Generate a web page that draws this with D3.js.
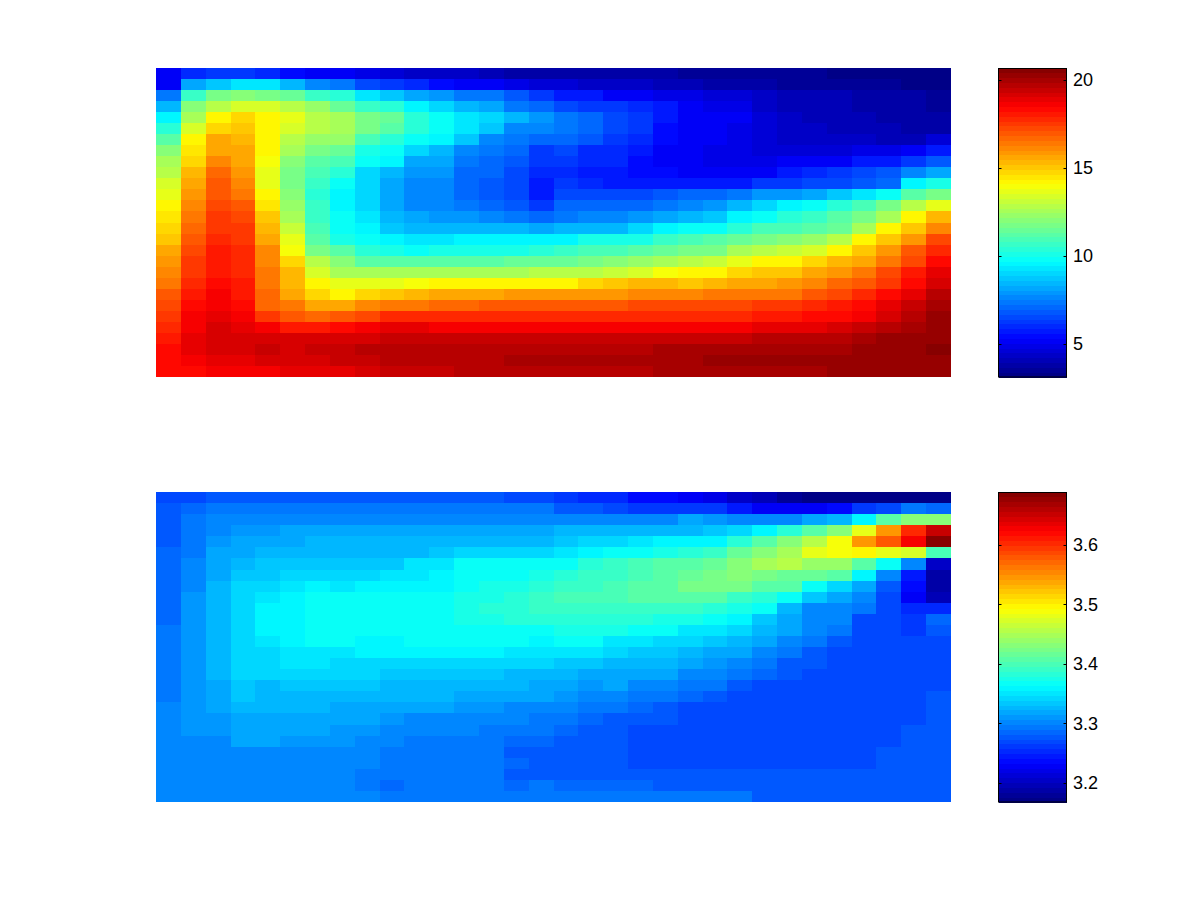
<!DOCTYPE html>
<html><head><meta charset="utf-8">
<script src="https://d3js.org/d3.v7.min.js"></script>
<style>html,body{margin:0;padding:0;background:#fff}svg{display:block}text{font-family:"Liberation Sans",Arial,sans-serif;font-size:18px;fill:#000}</style>
</head><body><svg id="c" width="1200" height="901"></svg>
<script>
// Each inner array is one column of the picture, top row first.
const topColumns = [
[5.1,5.2,7.5,8.4,9.7,10.5,11.3,12,12.6,12.9,13.4,13.8,14.1,14.5,14.8,15.1,15.6,15.9,16.2,16.4,16.9,17.3,17.6,17.9,18.2,18.3,18.4,18.3],
[5.9,8.1,10.7,12,12.6,13.3,14.2,14.6,14.9,15.3,15.5,15.9,16.1,16.4,16.6,16.9,17.2,17.5,17.6,17.8,18,18.3,18.5,18.6,18.9,19,18.7,18.4],
[6.2,8.8,11.7,12.9,14.1,14.9,15.5,15.7,16.1,16.6,16.9,17.1,17.3,17.5,17.6,17.8,18,18.1,18.2,18.3,18.5,18.6,18.9,19.2,19.2,19.3,18.9,18.5],
[6.2,9.2,12,13.5,14.7,15.1,15.2,15.5,15.6,15.8,16.1,16.5,16.9,17.2,17.4,17.6,17.8,17.9,17.9,18,18.1,18.3,18.6,18.9,19.3,19.3,19,18.5],
[6.1,9.2,11.9,13.5,14.1,14.1,14.1,14.1,13.9,13.8,13.8,14.1,14.4,15,15.3,15.5,16.1,16.2,16.3,16.4,16.6,16.8,17.4,18.6,19.3,19.4,19.3,18.7],
[5.5,8.4,11.4,12.9,13.6,13.4,12.8,12.6,12.1,11.9,11.9,12.1,12.3,12.6,13.1,13.6,14,14.8,15.2,15.4,15.7,16.3,17,18.1,19.2,19.3,19.3,18.9],
[5.2,7.7,10.8,12.4,12.9,12.8,12.3,11.7,11.3,10.9,10.6,10.5,10.6,10.8,11,11.3,11.9,13,13.5,14.1,14.9,15.6,16.8,18,19.3,19.5,19.3,19],
[5.2,7.4,10.3,11.5,12.5,12.5,12.2,11.4,10.9,10.3,9.8,9.7,9.7,9.8,9.9,10,11.1,12,12.6,13.8,14.2,15.6,17,18.3,19.3,19.5,19.4,19],
[4.9,6.6,9.3,10.7,11.7,11.7,11,10.2,9.8,9.1,9,8.9,8.9,9.2,9.6,9.9,10.3,11.3,12.5,13.6,14.9,16.2,17.3,18.6,19.3,19.6,19.5,19.3],
[4.7,6.2,8.8,10.5,11.4,11.2,10.5,9.9,9.5,8.5,8.2,8.1,8.1,8.4,8.8,9.6,10.2,11.2,12.6,13.8,15.1,16.5,17.7,18.8,19.5,19.6,19.6,19.4],
[4.5,6,8.2,9.7,10.5,10.4,9.9,9.1,8.3,7.9,7.6,7.6,7.6,8.1,8.6,9.4,9.9,11.2,12.6,14,15.4,16.5,17.8,18.8,19.5,19.6,19.6,19.5],
[4.4,5.5,7.9,9.1,9.9,9.9,9.5,8.6,8.2,7.9,7.6,7.6,7.6,7.9,8.5,9.4,10,11.3,12.6,14.1,15.7,16.6,17.8,18.7,19.5,19.7,19.6,19.5],
[4.3,5.1,7.4,8.4,9.4,9.2,8.8,7.7,7.4,7.2,7,7.1,7.5,7.9,8.6,9.5,10.1,11.3,12.6,14.1,15.7,16.8,17.8,18.7,19.5,19.7,19.7,19.6],
[4,5.1,7.3,8.1,9,8.7,7.7,7.5,7,7,6.8,6.8,7.2,7.7,8.5,9.6,10.1,11.3,12.7,14.1,15.7,16.9,17.8,18.7,19.5,19.7,19.8,19.6],
[3.9,4.8,6.8,7.5,8.4,7.7,7.5,7,6.9,6.5,6.5,6.5,6.8,7.5,8.4,9.7,10.2,11.4,12.7,14.1,15.8,17,17.8,18.7,19.5,19.7,19.9,19.7],
[3.9,4.7,6.3,7.2,7.9,7.6,7,6.2,6.2,6,5.8,5.8,6.3,7.2,8.3,9.7,10.4,11.5,12.8,14.1,15.8,17,17.8,18.7,19.5,19.8,19.9,19.7],
[3.8,4.6,5.8,6.5,7.3,7.3,7,6.5,6.2,6.1,6.2,6.5,7,7.5,8.4,9.7,10.7,11.5,12.8,14.3,15.9,17,17.9,18.7,19.4,19.8,19.9,19.6],
[3.8,4.5,5.6,6.2,7,7,6.8,6,6,5.7,6.1,6.5,7,7.6,8.5,10,10.9,11.8,13,14.9,15.9,17,17.9,18.7,19.4,19.8,20,19.7],
[3.8,4.4,5.3,6.2,6.5,6.6,6.3,5.9,5.9,5.7,5.8,6.6,7,7.6,8.5,10,11,12,13.1,15,16,17,17.9,18.7,19.4,19.8,20,19.7],
[3.7,4.3,5.2,6,6.2,6.2,6,5.6,5.4,5.5,5.8,6.6,7.2,7.9,8.9,10.1,11.3,12.3,13.5,15.2,16.1,17.2,17.9,18.7,19.4,19.8,20,19.8],
[3.7,4.1,4.9,5.6,5.7,5.4,5.4,5.3,5.3,5.4,5.8,6.8,7.4,8.3,9.7,10.7,11.5,12.6,14,15.2,16.1,17.2,17.9,18.7,19.5,19.9,20,19.9],
[3.5,4,4.8,5.1,5.3,5.3,5.2,5.1,5.1,5.2,5.7,7,7.7,8.6,9.8,10.9,11.7,12.9,14.1,15.1,16.2,17.2,17.9,18.7,19.5,19.9,20.1,19.9],
[3.5,3.9,4.7,5,5.2,5.1,5.1,5,5,5.2,5.7,7.2,7.9,8.8,9.8,11.1,11.9,13.2,14.1,15.3,16.3,17.2,17.9,18.7,19.5,19.9,20.2,19.9],
[3.5,3.8,4.6,4.9,5.1,4.9,4.9,4.8,4.9,5.2,5.7,7.5,8.6,9.5,10.4,11.6,12.7,13.6,14.7,15.5,16.3,17.2,17.9,18.7,19.5,19.9,20.2,19.9],
[3.5,3.7,4.4,4.4,4.7,4.6,4.6,4.6,5,5.2,6.2,7.9,9,9.9,10.9,11.8,13,14.1,15,15.5,16.4,17.5,18.1,19,19.6,20.1,20.2,20],
[3.5,3.6,4.2,4.2,4.4,4.4,4.5,4.7,5.1,5.6,6.2,7.9,9.5,10.4,11,12,13.1,14.1,15.1,15.8,16.5,17.5,18.1,19,19.6,20.1,20.2,20.1],
[3.5,3.6,4.1,4.1,4.2,4.3,4.4,4.6,5.2,5.9,6.5,8.3,9.9,10.8,11.2,12.3,13.4,14.8,15.5,16.2,16.9,17.8,18.4,19,19.7,20.1,20.2,20.1],
[3.4,3.5,4,4,4.1,4.2,4.3,4.7,5.3,6.2,6.6,8.7,10.4,11.2,11.5,12.9,14.1,15.2,15.9,16.6,17.3,18,18.4,19.3,19.8,20.1,20.4,20.2],
[3.4,3.5,3.9,3.9,4,4.1,4.3,4.8,5.6,6.6,6.9,9.2,11,11.9,12.7,14.1,15.1,15.5,16.5,16.9,17.8,18.4,18.7,19.5,20,20.2,20.4,20.3],
[3.4,3.5,3.8,3.8,3.9,4,4.2,4.9,5.8,6.8,7,9.8,11.9,12.7,14.1,15.1,16,16.3,17.2,17.5,18.4,18.8,19.3,19.7,20.2,20.3,20.3,20.3],
[3.4,3.4,3.7,3.7,3.8,3.9,4.2,5.2,6.3,7.6,9.6,11.3,13,14.1,15,16,16.9,17.3,18.1,18.4,19,19.5,19.7,20,20.2,20.4,20.3,20.3],
[3.3,3.4,3.6,3.6,3.7,3.9,4.6,5.8,6.7,8.3,10,11.9,13.7,15.2,16.1,17.2,17.8,18.4,18.9,19.2,19.8,20.1,20.2,20.2,20.3,20.6,20.3,20.3]
];
const bottomColumns = [
[3.27,3.276,3.276,3.276,3.276,3.286,3.286,3.286,3.286,3.286,3.286,3.286,3.291,3.291,3.291,3.291,3.291,3.291,3.291,3.301,3.301,3.301,3.301,3.304,3.304,3.304,3.304,3.304],
[3.27,3.286,3.291,3.296,3.296,3.291,3.301,3.301,3.301,3.31,3.31,3.31,3.31,3.31,3.31,3.31,3.31,3.308,3.308,3.308,3.308,3.308,3.304,3.304,3.304,3.304,3.304,3.304],
[3.275,3.291,3.301,3.306,3.31,3.32,3.32,3.32,3.325,3.328,3.328,3.328,3.328,3.328,3.328,3.328,3.328,3.32,3.32,3.32,3.31,3.31,3.306,3.301,3.301,3.301,3.301,3.301],
[3.275,3.291,3.301,3.31,3.315,3.32,3.328,3.333,3.34,3.345,3.345,3.345,3.345,3.345,3.345,3.345,3.345,3.335,3.335,3.328,3.32,3.315,3.315,3.306,3.301,3.301,3.301,3.301],
[3.275,3.296,3.301,3.31,3.32,3.328,3.333,3.335,3.345,3.35,3.363,3.363,3.363,3.355,3.345,3.345,3.34,3.33,3.328,3.325,3.32,3.315,3.315,3.306,3.301,3.301,3.301,3.301],
[3.275,3.296,3.301,3.315,3.32,3.33,3.335,3.345,3.35,3.363,3.363,3.363,3.363,3.363,3.355,3.35,3.345,3.335,3.328,3.325,3.32,3.315,3.31,3.306,3.301,3.301,3.301,3.301],
[3.275,3.296,3.301,3.315,3.325,3.33,3.335,3.345,3.36,3.365,3.365,3.365,3.365,3.365,3.355,3.35,3.345,3.335,3.33,3.325,3.32,3.315,3.31,3.306,3.301,3.301,3.301,3.301],
[3.275,3.296,3.301,3.315,3.325,3.33,3.335,3.345,3.35,3.365,3.365,3.365,3.365,3.365,3.355,3.345,3.34,3.335,3.328,3.315,3.315,3.31,3.31,3.301,3.301,3.301,3.301,3.301],
[3.275,3.296,3.306,3.315,3.325,3.33,3.335,3.345,3.36,3.365,3.365,3.365,3.365,3.362,3.36,3.345,3.34,3.335,3.328,3.32,3.315,3.31,3.301,3.301,3.301,3.291,3.291,3.301],
[3.275,3.296,3.306,3.315,3.328,3.33,3.335,3.35,3.36,3.365,3.365,3.365,3.365,3.362,3.36,3.345,3.335,3.33,3.325,3.315,3.31,3.306,3.301,3.296,3.291,3.291,3.286,3.296],
[3.28,3.296,3.306,3.315,3.328,3.33,3.35,3.355,3.36,3.367,3.367,3.368,3.367,3.365,3.36,3.345,3.335,3.328,3.325,3.315,3.306,3.301,3.296,3.291,3.291,3.291,3.291,3.291],
[3.275,3.296,3.306,3.315,3.328,3.335,3.35,3.36,3.362,3.368,3.37,3.37,3.368,3.365,3.36,3.345,3.335,3.328,3.325,3.315,3.306,3.301,3.296,3.291,3.291,3.291,3.291,3.291],
[3.275,3.296,3.306,3.315,3.328,3.34,3.365,3.365,3.37,3.372,3.378,3.373,3.37,3.365,3.36,3.345,3.335,3.328,3.32,3.31,3.306,3.301,3.291,3.291,3.291,3.291,3.291,3.291],
[3.275,3.296,3.306,3.32,3.328,3.34,3.365,3.368,3.372,3.378,3.38,3.376,3.37,3.365,3.36,3.345,3.335,3.328,3.32,3.31,3.306,3.296,3.291,3.291,3.291,3.291,3.291,3.291],
[3.27,3.291,3.301,3.32,3.328,3.345,3.37,3.37,3.372,3.38,3.385,3.38,3.37,3.365,3.355,3.345,3.33,3.325,3.315,3.306,3.301,3.291,3.286,3.281,3.286,3.276,3.286,3.291],
[3.27,3.291,3.301,3.32,3.33,3.345,3.37,3.375,3.38,3.39,3.392,3.385,3.37,3.362,3.355,3.345,3.33,3.32,3.315,3.306,3.296,3.291,3.286,3.281,3.281,3.281,3.291,3.291],
[3.265,3.281,3.306,3.325,3.335,3.35,3.37,3.385,3.39,3.4,3.395,3.385,3.375,3.365,3.35,3.335,3.328,3.32,3.31,3.301,3.291,3.286,3.276,3.276,3.276,3.276,3.286,3.291],
[3.255,3.281,3.306,3.325,3.34,3.362,3.38,3.39,3.395,3.4,3.395,3.385,3.375,3.365,3.35,3.335,3.32,3.31,3.301,3.296,3.286,3.276,3.276,3.276,3.276,3.276,3.286,3.291],
[3.25,3.272,3.306,3.325,3.345,3.365,3.39,3.395,3.4,3.4,3.395,3.385,3.375,3.35,3.345,3.33,3.32,3.315,3.301,3.291,3.281,3.276,3.276,3.276,3.276,3.276,3.286,3.291],
[3.24,3.265,3.306,3.328,3.35,3.37,3.4,3.4,3.405,3.405,3.39,3.38,3.365,3.35,3.335,3.328,3.315,3.301,3.296,3.286,3.276,3.272,3.27,3.272,3.272,3.281,3.286,3.291],
[3.235,3.26,3.306,3.328,3.36,3.375,3.405,3.41,3.41,3.405,3.39,3.375,3.365,3.345,3.335,3.325,3.315,3.301,3.291,3.276,3.276,3.272,3.27,3.27,3.272,3.276,3.281,3.291],
[3.225,3.26,3.315,3.33,3.36,3.385,3.41,3.42,3.425,3.41,3.39,3.375,3.355,3.34,3.325,3.315,3.306,3.296,3.286,3.272,3.27,3.27,3.27,3.27,3.27,3.276,3.281,3.291],
[3.22,3.26,3.31,3.335,3.36,3.395,3.42,3.425,3.425,3.405,3.385,3.365,3.35,3.335,3.315,3.31,3.301,3.291,3.276,3.27,3.27,3.27,3.27,3.27,3.27,3.276,3.281,3.291],
[3.205,3.245,3.306,3.345,3.38,3.415,3.43,3.43,3.425,3.395,3.375,3.36,3.345,3.33,3.315,3.306,3.291,3.281,3.272,3.27,3.27,3.27,3.27,3.27,3.27,3.276,3.281,3.291],
[3.195,3.225,3.301,3.36,3.405,3.435,3.445,3.425,3.41,3.385,3.365,3.335,3.328,3.315,3.306,3.296,3.286,3.272,3.27,3.27,3.27,3.27,3.27,3.27,3.27,3.276,3.281,3.281],
[3.18,3.23,3.301,3.385,3.43,3.45,3.455,3.42,3.405,3.365,3.325,3.315,3.315,3.301,3.296,3.281,3.276,3.27,3.27,3.27,3.27,3.27,3.27,3.27,3.27,3.276,3.281,3.281],
[3.175,3.225,3.315,3.41,3.455,3.48,3.44,3.42,3.37,3.335,3.306,3.306,3.301,3.291,3.281,3.276,3.272,3.27,3.27,3.27,3.27,3.27,3.27,3.27,3.27,3.276,3.281,3.281],
[3.175,3.24,3.33,3.43,3.49,3.49,3.44,3.41,3.345,3.315,3.301,3.301,3.291,3.276,3.272,3.27,3.27,3.27,3.27,3.27,3.27,3.27,3.27,3.27,3.27,3.276,3.281,3.281],
[3.172,3.265,3.36,3.48,3.55,3.495,3.41,3.36,3.32,3.301,3.291,3.27,3.27,3.27,3.27,3.27,3.27,3.27,3.27,3.27,3.27,3.27,3.27,3.27,3.27,3.281,3.281,3.281],
[3.172,3.27,3.41,3.55,3.58,3.485,3.37,3.306,3.281,3.272,3.27,3.27,3.27,3.27,3.27,3.27,3.27,3.27,3.27,3.27,3.27,3.27,3.27,3.276,3.276,3.281,3.281,3.281],
[3.172,3.291,3.43,3.6,3.624,3.47,3.306,3.245,3.235,3.23,3.255,3.262,3.262,3.27,3.27,3.27,3.27,3.27,3.27,3.27,3.27,3.276,3.276,3.276,3.281,3.281,3.281,3.281],
[3.172,3.286,3.43,3.65,3.689,3.4,3.205,3.19,3.19,3.195,3.255,3.286,3.276,3.272,3.272,3.272,3.272,3.272,3.276,3.276,3.276,3.276,3.276,3.281,3.281,3.281,3.281,3.281]
];
const topDomain = [3.13, 20.68];
const bottomDomain = [3.168, 3.689];
const topTicks = [5, 10, 15, 20];
const bottomTicks = [3.2, 3.3, 3.4, 3.5, 3.6];

const jetLevels = 64;
const jet = t => {
  const c = x => Math.round(255 * Math.max(0, Math.min(1, x)));
  return `rgb(${c(1.5 - Math.abs(4 * t - 3))},${c(1.5 - Math.abs(4 * t - 2))},${c(1.5 - Math.abs(4 * t - 1))})`;
};
const jetColor = d3.scaleQuantize().domain([0, 1])
  .range(d3.range(jetLevels).map(i => jet((i + 0.5) / jetLevels)));

const svg = d3.select('#c');
function panel(columns, domain, ticks, fmt, y0, y1) {
  const x = d3.scaleBand().domain(d3.range(columns.length)).range([156, 951]);
  const y = d3.scaleBand().domain(d3.range(columns[0].length)).range([y0, y1]);
  const norm = d3.scaleLinear().domain(domain).range([0, 1]).clamp(true);
  const g = svg.append('g');
  const cells = columns.flatMap((col, i) => col.map((v, j) => ({i, j, v})));
  g.selectAll('rect').data(cells).join('rect')
    .attr('x', d => x(d.i)).attr('y', d => y(d.j))
    .attr('width', x.bandwidth() + 0.4).attr('height', y.bandwidth() + 0.4)
    .attr('fill', d => jetColor(norm(d.v)))
    .attr('shape-rendering', 'crispEdges');

  // colour bar
  const cbX0 = 998.5, cbX1 = 1066.5;
  const cy = d3.scaleLinear().domain(domain).range([y1, y0]);
  const bar = svg.append('g');
  const step = (domain[1] - domain[0]) / jetLevels;
  bar.selectAll('rect').data(d3.range(jetLevels)).join('rect')
    .attr('x', cbX0).attr('width', cbX1 - cbX0)
    .attr('y', i => cy(domain[0] + (i + 1) * step))
    .attr('height', (y1 - y0) / jetLevels + 0.5)
    .attr('fill', i => jet((i + 0.5) / jetLevels))
    .attr('shape-rendering', 'crispEdges');
  const axis = svg.append('g').attr('transform', `translate(${cbX1},0)`)
    .call(d3.axisRight(cy).tickValues(ticks).tickFormat(fmt).tickSize(0).tickPadding(6.5));
  axis.select('.domain').remove();
  axis.attr('font-size', null).attr('font-family', null);
  const tickG = svg.append('g').attr('stroke', '#000').attr('stroke-width', 1);
  ticks.forEach(t => {
    const py = Math.round(cy(t)) + 0.5;
    tickG.append('line').attr('x1', cbX0).attr('x2', cbX0 + 3).attr('y1', py).attr('y2', py);
    tickG.append('line').attr('x1', cbX1 - 3).attr('x2', cbX1).attr('y1', py).attr('y2', py);
  });
  svg.append('rect').attr('x', cbX0).attr('y', y0 + 0.5).attr('width', cbX1 - cbX0).attr('height', y1 - y0 - 0.5)
    .attr('fill', 'none').attr('stroke', '#000').attr('stroke-width', 1);
}
panel(topColumns, topDomain, topTicks, d3.format('d'), 68, 377);
panel(bottomColumns, bottomDomain, bottomTicks, d3.format('.1f'), 492, 802);
</script></body></html>
